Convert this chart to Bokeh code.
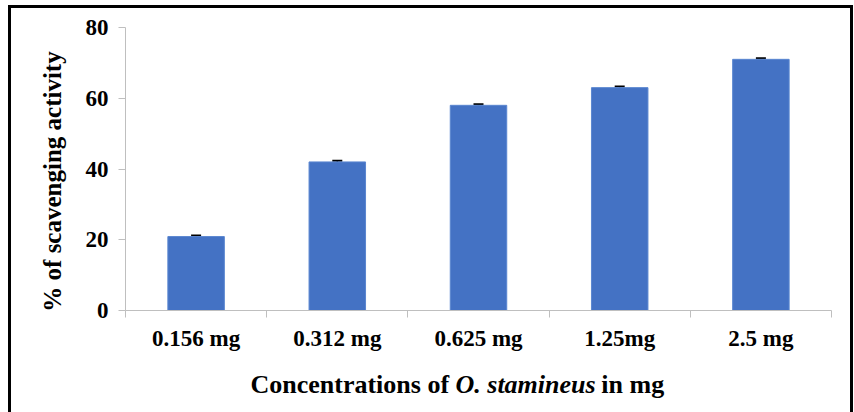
import math
from bokeh.plotting import figure
from bokeh.layouts import column, row
from bokeh.models import Range1d, FixedTicker, ColumnDataSource, Whisker, TeeHead
from bokeh.core.properties import value
from bokeh.embed import file_html
from bokeh.resources import INLINE

categories = ["0.156 mg", "0.312 mg", "0.625 mg", "1.25mg", "2.5 mg"]
values = [20.9, 42.0, 58.0, 63.0, 71.0]
errors = [0.3, 0.3, 0.3, 0.3, 0.3]
y_ticks = [0, 20, 40, 60, 80]
y_label = "% of scavenging activity"
x_label_parts = ["Concentrations of", "O. stamineus", "in mg"]
x_label_styles = ["bold", "bold italic", "bold"]

FONT = "Liberation Serif"
AXIS_GREY = "#bfbfbf"
STRIP_W = 70
MAIN_W = 839 - STRIP_W
MAIN_H = 350
XT_H = 62

xs = [i + 0.5 for i in range(len(categories))]
src = ColumnDataSource(dict(
    x=xs, top=values,
    upper=[v + e for v, e in zip(values, errors)],
    lower=[v - e for v, e in zip(values, errors)],
))

x_range = Range1d(0, len(categories))
p = figure(width=MAIN_W, height=MAIN_H, output_backend="svg", toolbar_location=None,
           x_range=x_range, y_range=Range1d(y_ticks[0], y_ticks[-1]),
           min_border_left=114 - STRIP_W, min_border_right=19, min_border_top=19,
           min_border_bottom=48)
p.outline_line_color = None
p.grid.visible = False

p.vbar(x="x", top="top", width=0.4, bottom=0, source=src,
       fill_color="#4472C4", line_color="#5a86d0", line_width=1)
p.add_layout(Whisker(base="x", upper="upper", lower="lower", source=src,
                     line_color="black", line_width=1.5,
                     upper_head=TeeHead(size=10, line_color="black", line_width=2),
                     lower_head=TeeHead(size=10, line_color="black", line_width=2)))

xa = p.xaxis[0]
xa.ticker = FixedTicker(ticks=xs, minor_ticks=list(range(len(categories) + 1)))
xa.major_label_overrides = {x: c for x, c in zip(xs, categories)}
xa.major_tick_line_color = None
xa.minor_tick_line_color = AXIS_GREY
xa.minor_tick_in = 0
xa.minor_tick_out = 7
xa.axis_line_color = AXIS_GREY
xa.major_label_standoff = 8
xa.major_label_text_font = FONT
xa.major_label_text_font_style = "bold"
xa.major_label_text_font_size = "23px"
xa.major_label_text_color = "black"

ya = p.yaxis[0]
ya.ticker = FixedTicker(ticks=y_ticks, minor_ticks=[])
ya.major_tick_line_color = AXIS_GREY
ya.major_tick_in = 0
ya.major_tick_out = 7
ya.axis_line_color = AXIS_GREY
ya.major_label_standoff = 10
ya.major_label_text_font = FONT
ya.major_label_text_font_style = "bold"
ya.major_label_text_font_size = "23px"
ya.major_label_text_color = "black"

# x-axis title (mixed bold / bold italic) as a strip under the chart
p2 = figure(width=MAIN_W, height=XT_H, output_backend="svg", toolbar_location=None,
            x_range=x_range, y_range=Range1d(XT_H, 0), x_axis_type=None, y_axis_type=None,
            min_border_left=114 - STRIP_W, min_border_right=19, min_border_top=0,
            min_border_bottom=0)
p2.outline_line_color = None
p2.grid.visible = False
lab = ColumnDataSource(dict(x=[0.885, 2.337, 3.37], y=[26, 26, 26],
                            text=x_label_parts, style=x_label_styles))
p2.text(x="x", y="y", text="text", source=lab, text_font=value(FONT),
        text_font_style="style", text_font_size="26px", text_color="black",
        text_baseline="middle", text_align="left")

# y-axis title as a strip on the left
ys = figure(width=STRIP_W, height=MAIN_H + XT_H, output_backend="svg", toolbar_location=None,
            x_range=Range1d(0, STRIP_W), y_range=Range1d(MAIN_H + XT_H, 0),
            x_axis_type=None, y_axis_type=None,
            min_border_left=0, min_border_right=0, min_border_top=0, min_border_bottom=0)
ys.outline_line_color = None
ys.grid.visible = False
ys.text(x=[41], y=[173], text=[y_label], angle=math.pi / 2, text_font=value(FONT),
        text_font_style="bold", text_font_size="25px", text_color="black",
        text_baseline="middle", text_align="center")

layout = row(ys, column(p, p2, spacing=0), spacing=0)
layout.styles = {"margin-left": "8px", "margin-top": "5px",
                 "border-left": "3px solid black", "border-top": "3px solid black",
                 "border-right": "3px solid black"}

open("out.html", "w").write(file_html(layout, INLINE))
